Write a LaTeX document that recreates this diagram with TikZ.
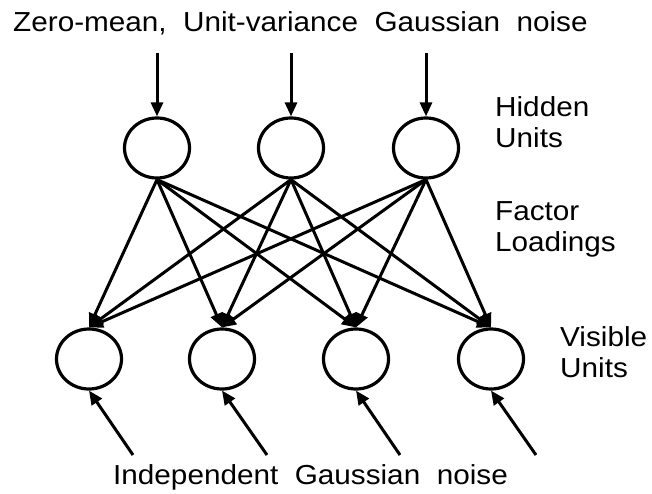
\documentclass[tikz,border=0pt]{standalone}
\usepackage{fontspec}
\setmainfont[FakeStretch=1.08]{Liberation Sans}
\usetikzlibrary{arrows.meta, shapes.geometric}
\tikzset{
    unit/.style={draw, ellipse, line width=3.2pt, minimum width=65pt, minimum height=60pt, inner sep=0pt},
    link/.style={line width=3pt, -{Triangle[length=14pt, width=12pt]}},
    noise/.style={line width=3pt, -{Triangle[length=14pt, width=12pt]}},
    tag/.style={align=left, inner sep=0pt, font=\fontsize{27.5}{31}\selectfont}
}

\begin{document}
\begin{tikzpicture}[x=1pt, y=-1pt]
    \useasboundingbox (0,0) rectangle (652,494);

    % =========================================
    % 1. units
    % =========================================
    \foreach \i/\x in {1/157, 2/291, 3/426} {
        \node[unit] (h\i) at (\x, 148) {};
        \coordinate (top-\i) at (\x, 53);
    }
    \foreach \i/\x in {1/89, 2/222, 3/356, 4/491} {
        \node[unit] (v\i) at (\x, 359) {};
    }
    \foreach \i/\x in {1/133, 2/267, 3/400, 4/536} {
        \coordinate (low-\i) at (\x, 455);
    }

    % =========================================
    % 2. factor loadings
    % =========================================
    \foreach \i in {1,2,3} {
        \foreach \j in {1,...,4} {
            \draw[link] (h\i.south) -- (v\j.north);
        }
    }

    % =========================================
    % 3. noise inputs
    % =========================================
    \foreach \i in {1,2,3} {
        \draw[noise] (top-\i) -- (h\i.north);
    }
    \foreach \j in {1,...,4} {
        \draw[noise] (low-\j) -- (v\j.south);
    }

    % =========================================
    % 4. labels
    % =========================================
    \node[tag, anchor=base west] (title) at (13, 32) {Zero-mean,\ \ Unit-variance\ \ Gaussian\ \ noise};
    \node[tag, anchor=north west] (hidden) at (495, 96) {Hidden\\Units};
    \node[tag, anchor=north west] (loadings) at (495, 201) {Factor\\Loadings};
    \node[tag, anchor=north west] (visible) at (560, 326) {Visible\\Units};
    \node[tag, anchor=base west] (bottom) at (113, 484) {Independent\ \ Gaussian\ \ noise};
\end{tikzpicture}
\end{document}
